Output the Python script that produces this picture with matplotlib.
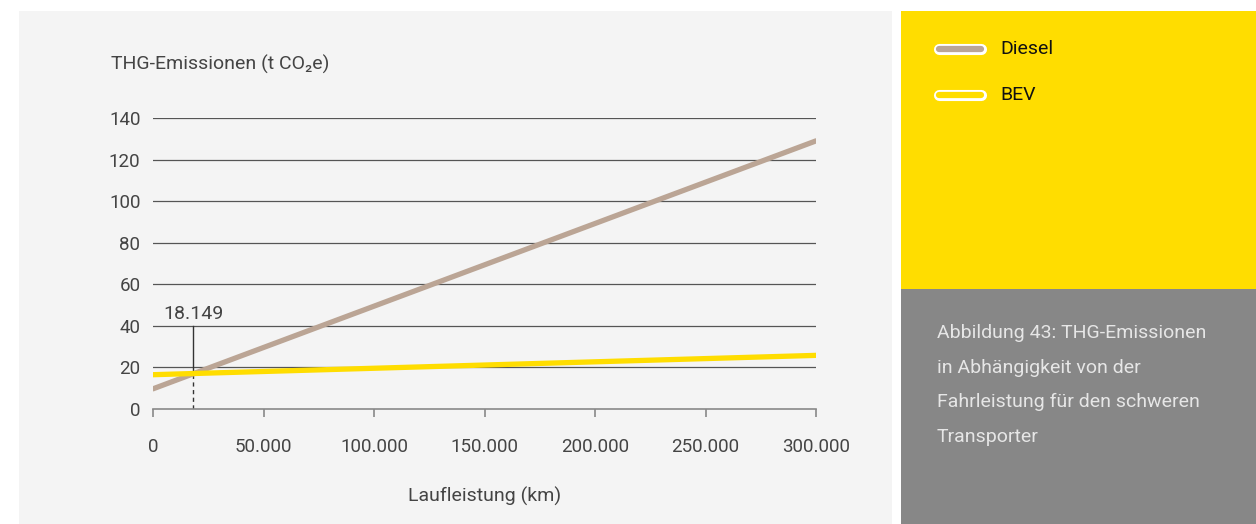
import matplotlib.pyplot as plt
from matplotlib.patches import Rectangle
from matplotlib.lines import Line2D
import matplotlib.patheffects as pe

plt.rcParams["font.family"] = ["Roboto", "DejaVu Sans"]

km = [0, 300000]
diesel = [9.7, 129.0]
bev = [16.5, 25.8]
break_even_km = 18149
break_even_t = 17.2
y_ticks = [0, 20, 40, 60, 80, 100, 120, 140]
x_ticks = [0, 50000, 100000, 150000, 200000, 250000, 300000]
x_labels = ["0", "50.000", "100.000", "150.000", "200.000", "250.000", "300.000"]
caption_lines = ["Abbildung 43: THG-Emissionen", "in Abhängigkeit von der",
                 "Fahrleistung für den schweren", "Transporter"]

W, H = 1256, 524
fig = plt.figure(figsize=(W / 100, H / 100), dpi=100)
fig.patch.set_facecolor("white")


def px(x0, y0, x1, y1):
    # pixel box (top-left origin) -> figure fraction
    return [x0 / W, 1 - y1 / H, (x1 - x0) / W, (y1 - y0) / H]


for box, color in [((19, 11, 892, 524), "#f4f4f4"),
                   ((901, 11, 1256, 289), "#ffdd00"),
                   ((901, 289, 1256, 524), "#878787")]:
    l, b, w, h = px(*box)
    fig.patches.append(Rectangle((l, b), w, h, transform=fig.transFigure,
                                 facecolor=color, edgecolor="none", zorder=-5))

ax = fig.add_axes(px(153, 118, 816, 409))
ax.set_zorder(2)
ax.set_facecolor("none")
ax.set_xlim(0, 300000)
ax.set_ylim(0, 140)

for yv in y_ticks[1:]:
    ax.axhline(yv, color="#555555", lw=0.9, zorder=1)

ax.plot(km, diesel, color="#bba595", lw=3.8, solid_capstyle="round", zorder=3)
ax.plot(km, bev, color="#ffdd00", lw=3.8, solid_capstyle="round", zorder=3)

ax.plot([break_even_km, break_even_km], [break_even_t, 40], color="#333333", lw=1, zorder=2)
ax.plot([break_even_km, break_even_km], [0, break_even_t], color="#333333", lw=1,
        ls=(0, (3, 2.5)), zorder=2)
ax.text(break_even_km, 41.5, "18.149", ha="center", va="bottom", fontsize=14, color="#444444")

for s in ["top", "right", "left"]:
    ax.spines[s].set_visible(False)
ax.spines["bottom"].set_color("#888888")
ax.spines["bottom"].set_linewidth(1.2)
ax.set_yticks(y_ticks)
ax.set_xticks(x_ticks)
ax.set_xticklabels(x_labels)
ax.tick_params(axis="y", length=0, pad=9, labelsize=13.5, labelcolor="#444444")
ax.tick_params(axis="x", length=6, width=1.2, color="#888888", pad=15,
               labelsize=13.5, labelcolor="#444444")
ax.set_xlabel("Laufleistung (km)", fontsize=14, color="#444444", labelpad=22)
fig.text(111 / W, 1 - 64 / H, "THG-Emissionen (t CO₂e)", fontsize=14, color="#444444",
         ha="left", va="center")

# legend in yellow panel
for ypx, color, label in [(49, "#bba595", "Diesel"), (95, "#ffdd00", "BEV")]:
    yf = 1 - ypx / H
    ln = Line2D([939 / W, 981 / W], [yf, yf], transform=fig.transFigure, color=color,
                lw=4.5, solid_capstyle="round",
                path_effects=[pe.Stroke(linewidth=8, foreground="white"), pe.Normal()])
    fig.lines.append(ln)
    fig.text(1000 / W, yf, label, fontsize=14, color="#111111", ha="left", va="center")

for i, line in enumerate(caption_lines):
    fig.text(937 / W, 1 - (333 + i * 34.7) / H, line, fontsize=14, color="#e6e6e6",
             ha="left", va="center")

fig.savefig("out.png", dpi=100)
